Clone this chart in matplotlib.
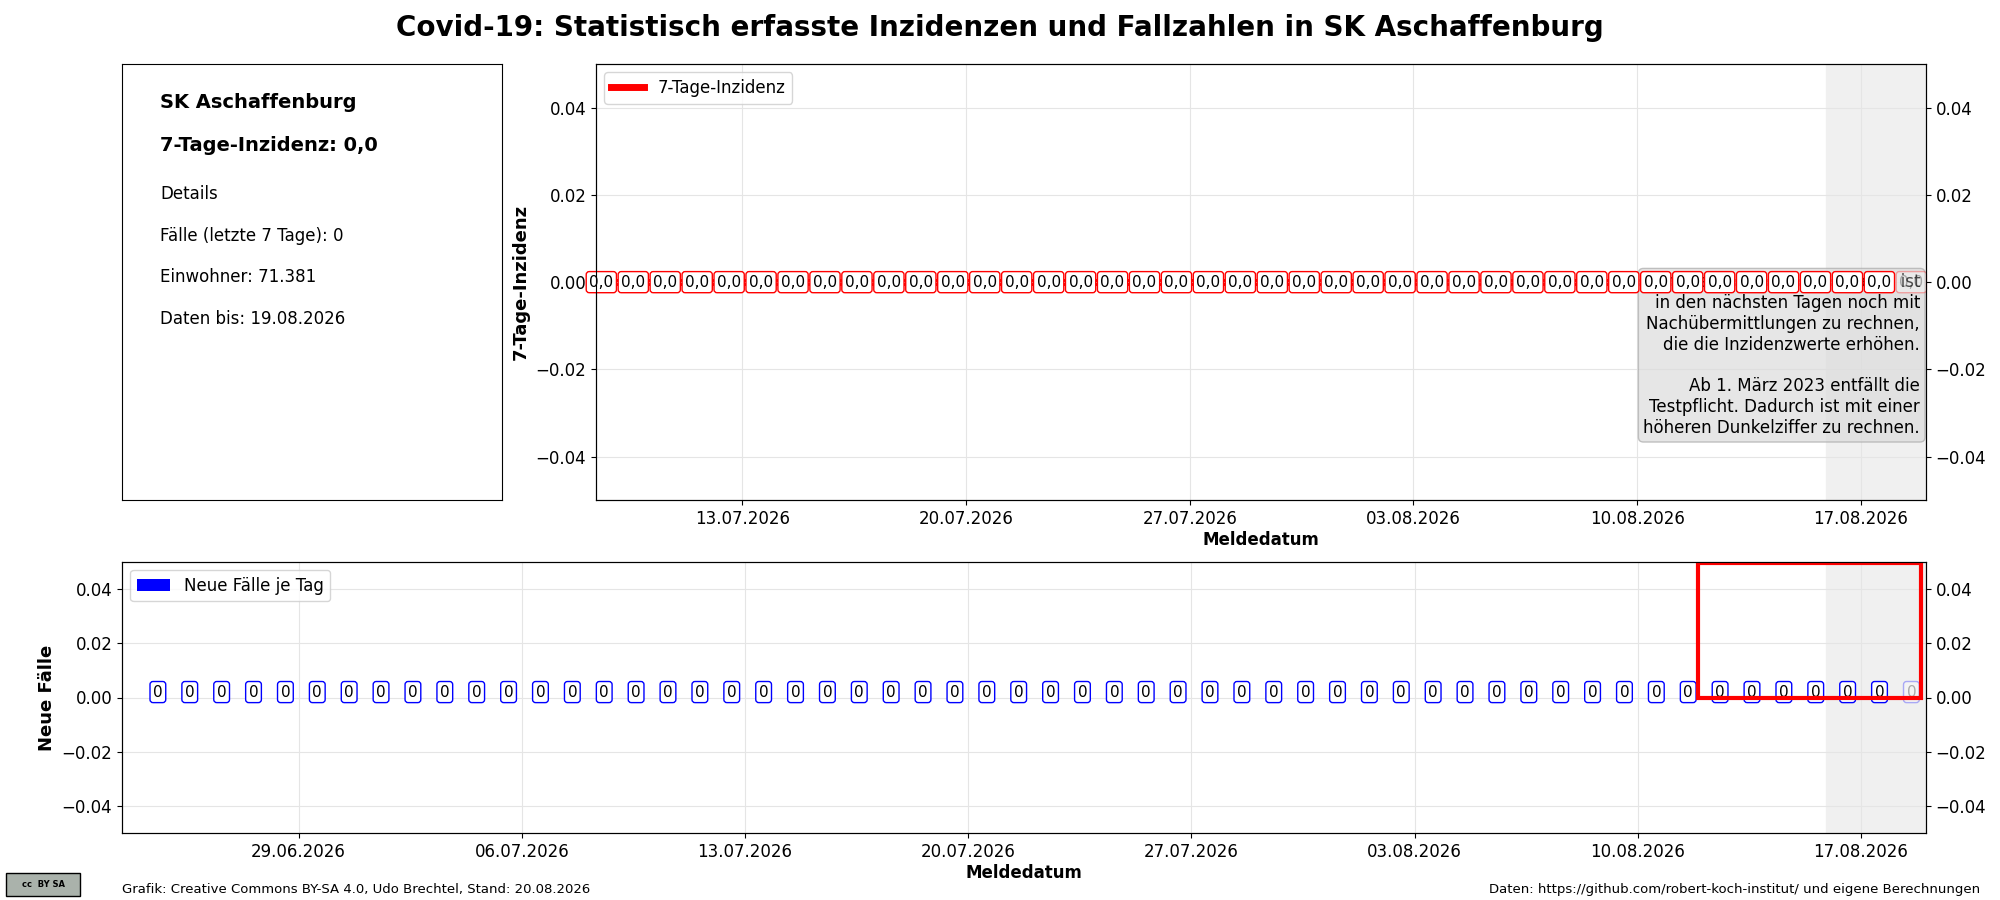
import datetime as dt
import matplotlib
matplotlib.use("Agg")
import matplotlib.pyplot as plt
import matplotlib.dates as mdates
from matplotlib.patches import Rectangle

# data
inz_start = dt.date(2026, 7, 9)
inz_values = [0.0] * 42          # 09.07. - 19.08.
fall_start = dt.date(2026, 6, 25)
fall_values = [0] * 56           # 25.06. - 19.08.
kreis = "SK Aschaffenburg"
einwohner = "71.381"
stand = "20.08.2026"
daten_bis = "19.08.2026"

def days(start, n):
    return [dt.datetime.combine(start, dt.time()) + dt.timedelta(days=i) - dt.timedelta(hours=10) for i in range(n)]

inz_dates = days(inz_start, len(inz_values))
fall_dates = days(fall_start, len(fall_values))

plt.rcParams['font.size'] = 12
fig = plt.figure(figsize=(20, 9), dpi=100)
fig.suptitle("Covid-19: Statistisch erfasste Inzidenzen und Fallzahlen in " + kreis,
             fontsize=20, fontweight='bold', y=0.985)

# info box
ax_info = fig.add_axes([0.061, 0.444, 0.190, 0.485])
ax_info.set_xticks([]); ax_info.set_yticks([])
ax_info.text(0.1, 0.90, kreis, fontsize=14, fontweight='bold', transform=ax_info.transAxes)
ax_info.text(0.1, 0.80, "7-Tage-Inzidenz: %s" % f"{inz_values[-2]:.1f}".replace('.', ','),
             fontsize=14, fontweight='bold', transform=ax_info.transAxes)
for i, t in enumerate(["Details", "Fälle (letzte 7 Tage): %d" % sum(fall_values[-8:-1]),
                       "Einwohner: " + einwohner, "Daten bis: " + daten_bis]):
    ax_info.text(0.1, 0.69 - i * 0.095, t, fontsize=12, transform=ax_info.transAxes)

date_fmt = mdates.DateFormatter("%d.%m.%Y")
xmax = dt.datetime(2026, 8, 19, 1)
shade_start = dt.datetime(2026, 8, 15, 22)

# top: incidence
ax1 = fig.add_axes([0.298, 0.444, 0.665, 0.485])
ax1.plot(inz_dates[:-1], inz_values[:-1], color='red', lw=5, label='7-Tage-Inzidenz', zorder=1)
for d, v in zip(inz_dates[:-1], inz_values[:-1]):
    ax1.text(d, v, f"{v:.1f}".replace('.', ','), ha='center', va='center', fontsize=11, zorder=4,
             bbox=dict(boxstyle='round,pad=0.2', fc='white', ec='red'))
ax1.text(inz_dates[-1], inz_values[-1], f"{inz_values[-1]:.1f}".replace('.', ','), ha='center',
         va='center', fontsize=11, alpha=0.3, zorder=4,
         bbox=dict(boxstyle='round,pad=0.2', fc='white', ec='red', alpha=0.3))
ax1.axvspan(shade_start, xmax, color='#f0f0f0', zorder=0)
ax1.set_xlim(dt.datetime(2026, 7, 8, 10), xmax)
ax1.set_ylim(-0.05, 0.05)
ax1.text(0.9955, 0.52, "Im grau hinterlegten Bereich ist\nin den nächsten Tagen noch mit\n"
         "Nachübermittlungen zu rechnen,\ndie die Inzidenzwerte erhöhen.\n\n"
         "Ab 1. März 2023 entfällt die\nTestpflicht. Dadurch ist mit einer\n"
         "höheren Dunkelziffer zu rechnen.", transform=ax1.transAxes, ha='right', va='top',
         fontsize=12, zorder=2,
         bbox=dict(boxstyle='round', fc='#dcdcdc', ec='#aaaaaa', alpha=0.7))
ax1.xaxis.set_major_locator(mdates.WeekdayLocator(byweekday=mdates.MO))
ax1.xaxis.set_major_formatter(date_fmt)
ax1.set_ylabel("7-Tage-Inzidenz", fontsize=13, fontweight='bold')
ax1.set_xlabel("Meldedatum", fontweight='bold', labelpad=2)
ax1.grid(color='#e5e5e5')
ax1.legend(loc='upper left')
ax1r = ax1.twinx(); ax1r.set_ylim(ax1.get_ylim())

# bottom: new cases
ax2 = fig.add_axes([0.061, 0.074, 0.902, 0.302])
ax2.bar(fall_dates, fall_values, color='blue', width=0.8, label='Neue Fälle je Tag')
for d, v in zip(fall_dates[:-1], fall_values[:-1]):
    ax2.text(d, v + 0.002, str(v), ha='center', va='center', fontsize=11,
             bbox=dict(boxstyle='round,pad=0.2', fc='white', ec='blue'))
ax2.text(fall_dates[-1], fall_values[-1] + 0.002, str(fall_values[-1]), ha='center', va='center',
         fontsize=11, alpha=0.3, bbox=dict(boxstyle='round,pad=0.2', fc='white', ec='blue', alpha=0.3))
ax2.axvspan(shade_start, xmax, color='#f0f0f0', zorder=0)
ax2.add_patch(Rectangle((mdates.date2num(dt.datetime(2026, 8, 11, 21)), 0.0),
                        mdates.date2num(xmax) - mdates.date2num(dt.datetime(2026, 8, 11, 21)) - 0.15,
                        0.0495, fill=False, ec='red', lw=3, zorder=5))
ax2.set_xlim(dt.datetime(2026, 6, 23, 11), xmax)
ax2.set_ylim(-0.05, 0.05)
ax2.xaxis.set_major_locator(mdates.WeekdayLocator(byweekday=mdates.MO))
ax2.xaxis.set_major_formatter(date_fmt)
ax2.set_ylabel("Neue Fälle", fontsize=13, fontweight='bold')
ax2.set_xlabel("Meldedatum", fontweight='bold', labelpad=2)
ax2.grid(color='#e5e5e5')
ax2.legend(loc='upper left')
ax2r = ax2.twinx(); ax2r.set_ylim(ax2.get_ylim())

# footer
fig.text(0.061, 0.008, "Grafik: Creative Commons BY-SA 4.0, Udo Brechtel, Stand: " + stand, fontsize=9.5)
fig.text(0.99, 0.008, "Daten: https://github.com/robert-koch-institut/ und eigene Berechnungen",
         fontsize=9.5, ha='right')
fig.patches.append(Rectangle((0.003, 0.004), 0.037, 0.026, transform=fig.transFigure,
                             fc='#aab2ab', ec='black', lw=1))
fig.text(0.0215, 0.017, "cc  BY SA", fontsize=6, ha='center', va='center', fontweight='bold')

fig.savefig("out.png", dpi=100)
